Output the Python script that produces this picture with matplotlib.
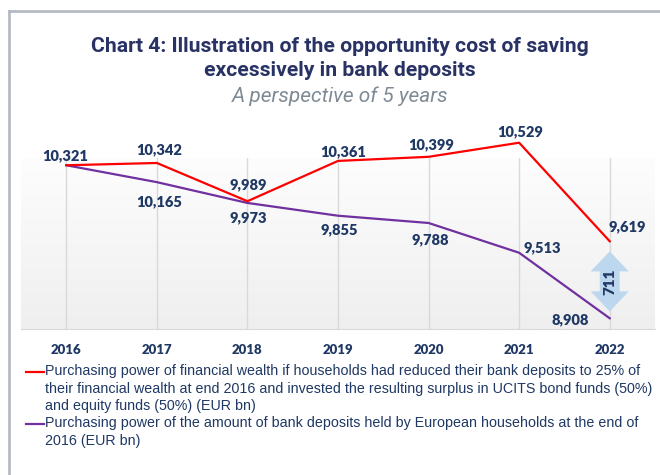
import numpy as np
import matplotlib.pyplot as plt
from matplotlib.patches import Polygon
from matplotlib.lines import Line2D

# data
years = ["2016", "2017", "2018", "2019", "2020", "2021", "2022"]
wealth_reinvested = [10321, 10342, 9989, 10361, 10399, 10529, 9619]
deposits_kept = [10321, 10165, 9973, 9855, 9788, 9513, 8908]

legend_red = ["Purchasing power of financial wealth if households had reduced their bank deposits to 25% of",
              "their financial wealth at end 2016 and invested the resulting surplus in UCITS bond funds (50%)",
              "and equity funds (50%) (EUR bn)"]
legend_purple = ["Purchasing power of the amount of bank deposits held by European households at the end of",
                 "2016 (EUR bn)"]

navy = "#1f3864"
red = "#ff0000"
purple = "#7030a0"

fig = plt.figure(figsize=(6.6, 4.75), dpi=100)
W, H = 660, 475

# outer frame (top and left only)
fig.add_artist(Line2D([9 / W, 9 / W], [0, 1 - 11 / H], color="#b4bac4", lw=2))
fig.add_artist(Line2D([9 / W, 1], [1 - 11 / H, 1 - 11 / H], color="#b4bac4", lw=2))

# titles
fig.text(340 / W, 1 - 47 / H, "Chart 4: Illustration of the opportunity cost of saving",
         ha="center", va="center", fontsize=15.2, fontweight="bold", color="#283264", family="Roboto")
fig.text(340 / W, 1 - 71 / H, "excessively in bank deposits",
         ha="center", va="center", fontsize=15.2, fontweight="bold", color="#283264", family="Roboto")
fig.text(340 / W, 1 - 96 / H, "A perspective of 5 years",
         ha="center", va="center", fontsize=15, style="italic", color="#7f8a94", family="Roboto")

ax = fig.add_axes([21 / W, 1 - 329 / H, 634 / W, (329 - 158) / H])
x = np.arange(len(years))
ax.set_xlim(-0.5, len(years) - 0.5)
ax.set_ylim(8809, 10388)

# gradient plot area
grad = np.linspace(0, 1, 100).reshape(-1, 1)
ax.imshow(grad, extent=[-0.5, len(years) - 0.5, 8809, 10388], aspect="auto",
          cmap=plt.matplotlib.colors.LinearSegmentedColormap.from_list("g", ["#efefef", "#fdfdfd"]),
          origin="lower", zorder=0)

for xi in x:
    ax.axvline(xi, color="#d9d9d9", lw=1, zorder=1)

for s in ["top", "left", "right"]:
    ax.spines[s].set_visible(False)
ax.spines["bottom"].set_color("#d9d9d9")
ax.set_yticks([])
ax.set_xticks(x)
ax.set_xticklabels(years, fontsize=9.5, fontweight="heavy", color=navy, family="Lato")
ax.tick_params(axis="x", length=0, pad=11)

ax.plot(x, deposits_kept, color=purple, lw=1.6, zorder=3, clip_on=False)
ax.plot(x, wealth_reinvested, color=red, lw=1.6, zorder=4, clip_on=False)

# data labels, offsets in pixels
red_off = [(-1, 10), (2, 13), (1, 16), (5, 9), (3, 12), (1, 11), (18, 15)]
pur_off = [None, (2, -20), (1, -15), (1, -14), (2, -17), (23, 5), (-40, -1)]
for xi, v, off in zip(x, wealth_reinvested, red_off):
    ax.annotate(f"{v:,}", (xi, v), xytext=(off[0] * 0.72, off[1] * 0.72), textcoords="offset points",
                ha="center", va="center", fontsize=10.5, fontweight="heavy", color=navy, family="Lato",
                annotation_clip=False)
for xi, v, off in zip(x, deposits_kept, pur_off):
    if off is None:
        continue
    ax.annotate(f"{v:,}", (xi, v), xytext=(off[0] * 0.72, off[1] * 0.72), textcoords="offset points",
                ha="center", va="center", fontsize=10.5, fontweight="heavy", color=navy, family="Lato",
                annotation_clip=False)

# double arrow showing the gap in 2022
gap = wealth_reinvested[-1] - deposits_kept[-1]
xc = x[-1]
ymid = (wealth_reinvested[-1] + deposits_kept[-1]) / 2 - 15
half = gap * 0.39
head = 185
hw, sw = 0.21, 0.11
pts = [(xc, ymid + half), (xc + hw, ymid + half - head), (xc + sw, ymid + half - head),
       (xc + sw, ymid - half + head), (xc + hw, ymid - half + head), (xc, ymid - half),
       (xc - hw, ymid - half + head), (xc - sw, ymid - half + head), (xc - sw, ymid + half - head),
       (xc - hw, ymid + half - head)]
ax.add_patch(Polygon(pts, closed=True, facecolor="#bdd7ee", edgecolor="none", zorder=2))
ax.text(xc, ymid, f"{gap}", rotation=90, ha="center", va="center", fontsize=11,
        fontweight="heavy", color=navy, family="Lato", zorder=5)

# legend
def legend_entry(lines, color, y0):
    fig.add_artist(Line2D([26 / W, 44 / W], [1 - (y0 + 1) / H] * 2, color=color, lw=1.6))
    for i, t in enumerate(lines):
        fig.text(45 / W, 1 - (y0 + i * 17.5) / H, t, ha="left", va="center",
                 fontsize=10.25, color=navy, family="Liberation Sans")

legend_entry(legend_red, red, 371)
legend_entry(legend_purple, purple, 423)

fig.savefig("out.png", dpi=100)
